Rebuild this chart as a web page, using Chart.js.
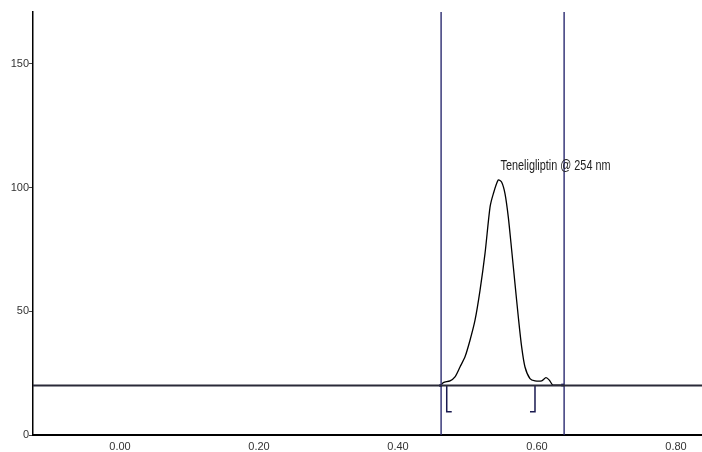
<!DOCTYPE html>
<html>
<head>
<meta charset="utf-8">
<script src="https://cdn.jsdelivr.net/npm/chart.js@4.4.1/dist/chart.umd.min.js"></script>
<style>
  html, body { margin: 0; padding: 0; background: #fff; overflow: hidden; }
  canvas { display: block; }
</style>
</head>
<body>
<canvas id="chrom" width="702" height="452"></canvas>
<script>
// retention time (min) and detector response
const traceX = [0.4614, 0.4652, 0.4748, 0.482, 0.4892, 0.4964, 0.5036, 0.5108, 0.518, 0.5252,
  0.5324, 0.5371, 0.5443, 0.5492, 0.554, 0.5587, 0.5636, 0.5683, 0.5731, 0.5779, 0.5827,
  0.5899, 0.5971, 0.6067, 0.6129, 0.6177, 0.6226, 0.6283, 0.6369];
const traceY = [20, 21.2, 21.9, 23.5, 27.5, 31.6, 38.3, 46.4, 58.5, 73.4,
  92.1, 97.5, 103.1, 102.2, 97.5, 88.1, 74.6, 61.2, 47.7, 35.6, 27.5,
  22.8, 21.9, 21.9, 23.2, 22.2, 20.2, 20.2, 20.2];

const baselineY = 20;
const windowX = [0.462, 0.639];           // integration window (blue lines)
const peakStartX = [0.4701, 0.4773];      // "[" marker
const peakEndX = [0.5899, 0.5971];        // "]" marker
const markerY = 9.4;
const peakLabel = "Teneligliptin @ 254 nm";
const peakLabelPos = [0.5475, 108.5];

const xTicks = [0, 0.2, 0.4, 0.6, 0.8];
const yTicks = [0, 50, 100, 150];
const xRange = [-0.1252, 0.8374];
const yRange = [0, 171];

const navy = "#2b2b70";

const pts = (xs, ys) => xs.map((x, i) => ({ x: x, y: ys[i] }));

// text next to the peak, squeezed like the instrument's narrow font
const labelPlugin = {
  id: "peakLabel",
  afterDatasetsDraw(chart) {
    const { ctx, scales } = chart;
    const px = scales.x.getPixelForValue(peakLabelPos[0]);
    const py = scales.y.getPixelForValue(peakLabelPos[1]);
    ctx.save();
    ctx.font = "14px 'Liberation Sans Narrow', 'Liberation Sans', Arial, sans-serif";
    ctx.fillStyle = "#222";
    ctx.textBaseline = "middle";
    const w = ctx.measureText(peakLabel).width;
    ctx.translate(px, py);
    ctx.scale(110 / w, 1);
    ctx.fillText(peakLabel, 0, 0);
    ctx.restore();
  }
};

const ctx = document.getElementById("chrom").getContext("2d");
new Chart(ctx, {
  type: "scatter",
  data: {
    datasets: [
      {
        // baseline
        data: pts(xRange, [baselineY, baselineY]),
        showLine: true, borderColor: "#2a2a38", borderWidth: 2, pointRadius: 0
      },
      {
        data: pts([windowX[0], windowX[0]], yRange),
        showLine: true, borderColor: navy, borderWidth: 1.4, pointRadius: 0
      },
      {
        data: pts([windowX[1], windowX[1]], yRange),
        showLine: true, borderColor: navy, borderWidth: 1.4, pointRadius: 0
      },
      {
        data: pts([peakStartX[0], peakStartX[0], peakStartX[1]], [baselineY, markerY, markerY]),
        showLine: true, borderColor: "#1a1a50", borderWidth: 1.5, pointRadius: 0
      },
      {
        data: pts([peakEndX[1], peakEndX[1], peakEndX[0]], [baselineY, markerY, markerY]),
        showLine: true, borderColor: "#1a1a50", borderWidth: 1.5, pointRadius: 0
      },
      {
        // chromatogram
        data: pts(traceX, traceY),
        showLine: true, borderColor: "#000", borderWidth: 1.3, tension: 0.25,
        pointRadius: traceX.map((_, i) => (i === 0 || i === traceX.length - 1 ? 2 : 0)),
        pointBackgroundColor: navy, pointBorderWidth: 0, pointStyle: "rect"
      }
    ]
  },
  options: {
    animation: false,
    responsive: false,
    devicePixelRatio: 1,
    layout: { autoPadding: false, padding: { top: 12, right: 0, left: 0, bottom: 0 } },
    plugins: { legend: { display: false }, tooltip: { enabled: false } },
    scales: {
      x: {
        type: "linear",
        min: xRange[0], max: xRange[1],
        afterFit: s => { s.height = 17; s.paddingLeft = 0; s.paddingRight = 0; },
        afterBuildTicks: s => { s.ticks = xTicks.map(v => ({ value: v })); },
        grid: { drawOnChartArea: false, drawTicks: false },
        border: { color: "#000", width: 2 },
        ticks: {
          padding: 5,
          color: "#333",
          font: { family: "'Liberation Sans', Arial, sans-serif", size: 11 },
          callback: v => v.toFixed(2),
          maxRotation: 0
        }
      },
      y: {
        min: yRange[0], max: yRange[1],
        afterFit: s => { s.width = 33; s.paddingTop = 0; s.paddingBottom = 0; },
        afterBuildTicks: s => { s.ticks = yTicks.map(v => ({ value: v })); },
        grid: { drawOnChartArea: false, drawTicks: true, tickLength: 4, color: "#444" },
        border: { color: "#000", width: 1.5 },
        ticks: {
          padding: 0,
          color: "#333",
          font: { family: "'Liberation Sans', Arial, sans-serif", size: 11 }
        }
      }
    }
  },
  plugins: [labelPlugin]
});
</script>
</body>
</html>
